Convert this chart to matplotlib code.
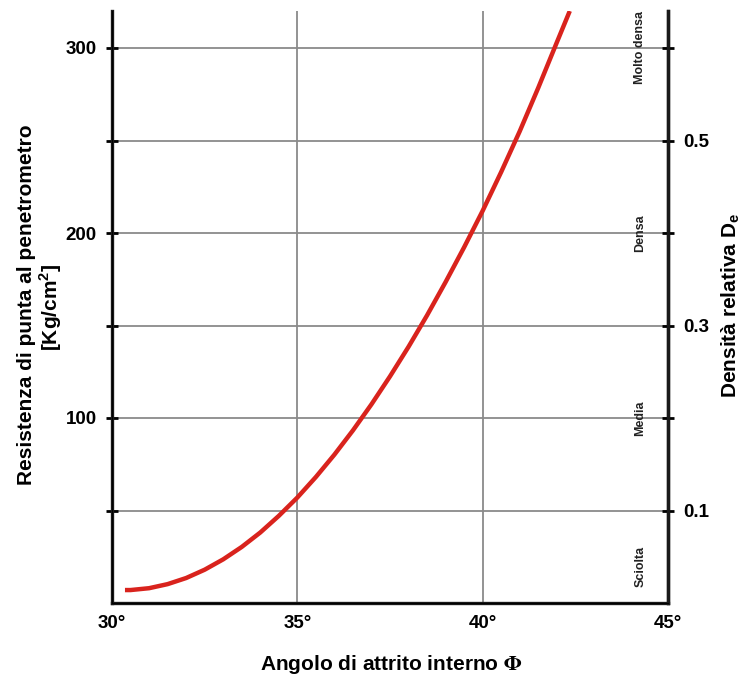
import matplotlib
matplotlib.use("Agg")
import matplotlib.pyplot as plt

plt.rcParams['font.family'] = ['Liberation Sans', 'DejaVu Sans']
plt.rcParams['font.weight'] = 'bold'
plt.rcParams['mathtext.fontset'] = 'custom'
plt.rcParams['mathtext.bf'] = 'Liberation Sans:bold'
plt.rcParams['mathtext.rm'] = 'Liberation Sans:bold'

# Data
phi = [30.35, 30.5, 31.0, 31.5, 32.0, 32.5, 33.0, 33.5, 34.0, 34.5, 35.0,
       35.5, 36.0, 36.5, 37.0, 37.5, 38.0, 38.5, 39.0, 39.5, 40.0,
       40.5, 41.0, 41.5, 42.0, 42.35]
qc = [7.0, 7.0, 8.0, 10.2, 13.5, 18.0, 23.6, 30.3, 38.1, 47.1, 57.0,
      68.1, 80.2, 93.3, 107.4, 122.5, 138.5, 155.5, 173.5, 192.3, 212.0,
      233.0, 255.0, 278.5, 303.0, 320.0]

x_ticks = [30, 35, 40, 45]
x_labels = ['30°', '35°', '40°', '45°']
y_ticks = [50, 100, 150, 200, 250, 300]
y_labels = ['', '100', '', '200', '', '300']
dr_ticks = [0.1, 0.2, 0.3, 0.4, 0.5, 0.6]
dr_labels = ['0.1', '', '0.3', '', '0.5', '']
classes = ['Sciolta', 'Media', 'Densa', 'Molto densa']
class_pos = [0.04, 0.2, 0.4, 0.6]

W, H = 742, 679
fig = plt.figure(figsize=(W / 100, H / 100), dpi=100)
ax = fig.add_axes([112 / W, 76 / H, 556 / W, 592 / H])
ax.set_xlim(30, 45)
ax.set_ylim(0, 320)

grid_c = '#8a8a8a'
for x in x_ticks[1:-1]:
    ax.axvline(x, color=grid_c, lw=1.3, zorder=1)
for y in y_ticks:
    ax.axhline(y, color=grid_c, lw=1.3, zorder=1)

ax.plot(phi, qc, color='#d9231d', lw=3.2, solid_capstyle='butt',
        solid_joinstyle='round', zorder=3)

for s in ['left', 'right', 'bottom']:
    ax.spines[s].set_linewidth(2.4)
    ax.spines[s].set_color('#1a1a1a')
ax.spines['top'].set_visible(False)

ax.set_xticks(x_ticks)
ax.set_xticklabels(x_labels, fontsize=13.5, fontweight='bold')
ax.tick_params(axis='x', length=0, pad=9)
ax.set_yticks(y_ticks)
ax.set_yticklabels(y_labels, fontsize=13.5, fontweight='bold')
ax.tick_params(axis='y', direction='inout', length=8, width=2, pad=7)

ax2 = ax.twinx()
ax2.set_ylim(0, 320 / 500)
ax2.spines['top'].set_visible(False)
ax2.spines['right'].set_linewidth(2.4)
ax2.spines['right'].set_color('#1a1a1a')
ax2.set_yticks(dr_ticks)
ax2.set_yticklabels(dr_labels, fontsize=13.5, fontweight='bold')
ax2.tick_params(axis='y', direction='inout', length=8, width=2, pad=7)

for name, pos in zip(classes, class_pos):
    ax2.text(44.25, pos, name, rotation=90, ha='center', va='center',
             fontsize=9, fontweight='bold', color='#222222', zorder=4)

# Axis titles placed in figure pixels
xl = fig.text(391 / W, 1 - 664 / H, 'Angolo di attrito interno $\\Phi$',
              ha='center', va='center', fontsize=15, fontweight='bold')
xl.set_math_fontfamily('stix')
fig.text(27 / W, 1 - 305 / H, 'Resistenza di punta al penetrometro',
         rotation=90, ha='center', va='center', fontsize=15, fontweight='bold')
fig.text(51 / W, 1 - 307 / H, '[Kg/cm$^{\\mathbf{2}}$]',
         rotation=90, ha='center', va='center', fontsize=15, fontweight='bold')
fig.text(731 / W, 1 - 305 / H, 'Densità relativa D$_\\mathbf{e}$',
         rotation=90, ha='center', va='center', fontsize=15, fontweight='bold')

fig.savefig('out.png', dpi=100)
